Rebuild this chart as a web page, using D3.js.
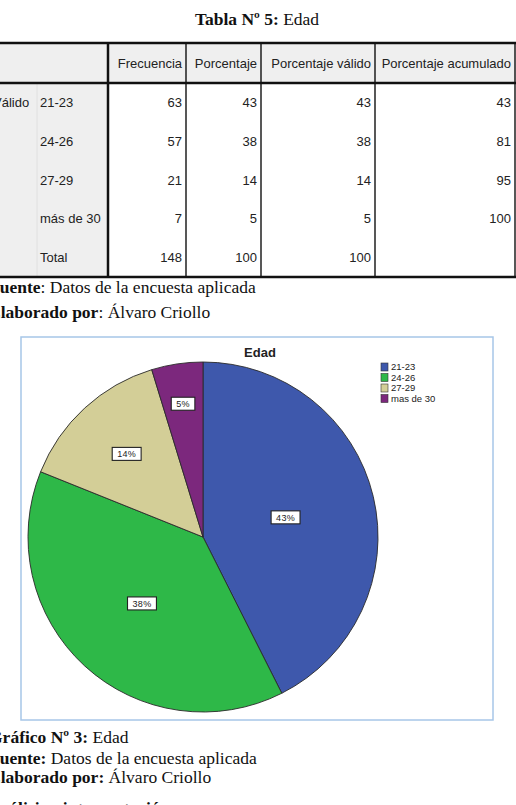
<!DOCTYPE html>
<html>
<head>
<meta charset="utf-8">
<script src="https://cdn.jsdelivr.net/npm/d3@7"></script>
<style>
  body { margin: 0; background: #fff; overflow: hidden; }
  svg { display: block; }
  .serif { font-family: "Liberation Serif", "Times New Roman", serif; font-size: 17.5px; fill: #111; }
  .sans { font-family: "Liberation Sans", Arial, sans-serif; fill: #222; }
</style>
</head>
<body>
<svg id="page" width="516" height="805"></svg>
<script>
// table data
const categories = ["21-23", "24-26", "27-29", "más de 30"];
const frecuencia = [63, 57, 21, 7];
const porcentaje = [43, 38, 14, 5];
const porcentajeValido = [43, 38, 14, 5];
const porcentajeAcumulado = [43, 81, 95, 100];
const totalRow = ["148", "100", "100", ""];
const headers = ["Frecuencia", "Porcentaje", "Porcentaje válido", "Porcentaje acumulado"];

// pie data
const legendLabels = ["21-23", "24-26", "27-29", "mas de 30"];
const colors = ["#3e58ac", "#2eb848", "#d3ce97", "#7c287d"];

const svg = d3.select("#page");

// ---------- title ----------
svg.append("text")
  .attr("class", "serif")
  .attr("x", 257)
  .attr("y", 25)
  .attr("text-anchor", "middle")
  .call(t => {
    t.append("tspan").attr("font-weight", "bold").text("Tabla Nº 5: ");
    t.append("tspan").text("Edad");
  });

// ---------- table ----------
const tableTop = 43, headerBottom = 83, tableBottom = 277;
const colEdges = [108, 186, 261, 375, 515];
const tfs = 13;

const rows = categories.map(function(c, i) {
  return [c, frecuencia[i], porcentaje[i], porcentajeValido[i], porcentajeAcumulado[i]];
});
rows.push(["Total"].concat(totalRow));

const rowScale = d3.scaleBand()
  .domain(d3.range(rows.length))
  .range([headerBottom, tableBottom]);

const table = svg.append("g");

// backgrounds
table.append("rect")
  .attr("x", 0).attr("y", tableTop)
  .attr("width", 516).attr("height", headerBottom - tableTop)
  .attr("fill", "#efefef");
table.append("rect")
  .attr("x", 0).attr("y", headerBottom)
  .attr("width", colEdges[0]).attr("height", tableBottom - headerBottom)
  .attr("fill", "#efefef");

// faint split in stub column
table.append("line")
  .attr("x1", 37).attr("x2", 37)
  .attr("y1", headerBottom).attr("y2", tableBottom)
  .attr("stroke", "#e0e0e0").attr("stroke-width", 1);

// vertical rules
table.selectAll("line.v")
  .data(colEdges)
  .enter()
  .append("line")
  .attr("class", "v")
  .attr("x1", d => d).attr("x2", d => d)
  .attr("y1", tableTop).attr("y2", tableBottom)
  .attr("stroke", "#111")
  .attr("stroke-width", function(d, i) { return i === 0 ? 2.5 : 1.4; });

// horizontal rules
table.selectAll("line.h")
  .data([tableTop, headerBottom, tableBottom])
  .enter()
  .append("line")
  .attr("class", "h")
  .attr("x1", 0).attr("x2", 516)
  .attr("y1", d => d).attr("y2", d => d)
  .attr("stroke", "#111")
  .attr("stroke-width", 2.5);

// header text
table.selectAll("text.head")
  .data(headers)
  .enter()
  .append("text")
  .attr("class", "sans head")
  .attr("font-size", tfs)
  .attr("x", function(d, i) { return colEdges[i + 1] - 4; })
  .attr("y", 68)
  .attr("text-anchor", "end")
  .text(d => d);

// stub labels
table.append("text")
  .attr("class", "sans")
  .attr("font-size", tfs)
  .attr("x", -7)
  .attr("y", rowScale(0) + rowScale.bandwidth() / 2 + 4.5)
  .text("Válido");

const rowG = table.selectAll("g.row")
  .data(rows)
  .enter()
  .append("g")
  .attr("class", "row")
  .attr("transform", function(d, i) {
    return "translate(0," + (rowScale(i) + rowScale.bandwidth() / 2 + 4.5) + ")";
  });

rowG.append("text")
  .attr("class", "sans")
  .attr("font-size", tfs)
  .attr("x", 40)
  .text(d => d[0]);

rowG.selectAll("text.val")
  .data(d => d.slice(1))
  .enter()
  .append("text")
  .attr("class", "sans val")
  .attr("font-size", tfs)
  .attr("x", function(d, i) { return colEdges[i + 1] - 4; })
  .attr("text-anchor", "end")
  .text(d => d);

// ---------- caption lines ----------
function caption(y, bold, normal) {
  svg.append("text")
    .attr("class", "serif")
    .attr("x", -11)
    .attr("y", y)
    .call(t => {
      t.append("tspan").attr("font-weight", "bold").text(bold);
      t.append("tspan").text(normal);
    });
}
caption(293, "Fuente", ": Datos de la encuesta aplicada");
caption(318, "Elaborado por", ": Álvaro Criollo");

// ---------- chart box ----------
svg.append("rect")
  .attr("x", 21).attr("y", 337)
  .attr("width", 472).attr("height", 383)
  .attr("fill", "#fff")
  .attr("stroke", "#a7c6e8")
  .attr("stroke-width", 1.5);

svg.append("text")
  .attr("class", "sans")
  .attr("x", 260)
  .attr("y", 357)
  .attr("text-anchor", "middle")
  .attr("font-size", 13)
  .attr("font-weight", "bold")
  .text("Edad");

// pie
const R = 175;
const cx = 203, cy = 537;

const pie = d3.pie().sort(null).value(d => d);
const arcs = pie(frecuencia);
const arc = d3.arc().innerRadius(0).outerRadius(R);

const pieG = svg.append("g").attr("transform", "translate(" + cx + "," + cy + ")");

pieG.selectAll("path")
  .data(arcs)
  .enter()
  .append("path")
  .attr("d", arc)
  .attr("fill", function(d, i) { return colors[i]; })
  .attr("stroke", "#2a2a2a")
  .attr("stroke-width", 0.9)
  .attr("stroke-linejoin", "round");

// labels at slice centroids (narrow slices pushed outward)
function labelPos(d) {
  const half = (d.endAngle - d.startAngle) / 2;
  const mid = (d.startAngle + d.endAngle) / 2;
  let r = (2 * R * Math.sin(half)) / (3 * half);
  if (half * 2 < 0.4) r = R * 0.77;
  return [r * Math.sin(mid), -r * Math.cos(mid)];
}

const lab = pieG.selectAll("g.lab")
  .data(arcs)
  .enter()
  .append("g")
  .attr("class", "lab")
  .attr("transform", function(d) { return "translate(" + labelPos(d) + ")"; });

lab.append("text")
  .attr("class", "sans")
  .attr("font-size", 9)
  .attr("text-anchor", "middle")
  .attr("y", 3.3)
  .attr("letter-spacing", 0.3)
  .text(function(d, i) { return porcentaje[i] + "%"; })
  .each(function() {
    const bb = this.getBBox();
    d3.select(this.parentNode)
      .insert("rect", "text")
      .attr("x", bb.x - 5)
      .attr("y", -6.5)
      .attr("width", bb.width + 10)
      .attr("height", 13)
      .attr("fill", "#fff")
      .attr("stroke", "#222")
      .attr("stroke-width", 1.1);
  });

// legend
const legendScale = d3.scalePoint()
  .domain(legendLabels)
  .range([367, 398.5]);

const leg = svg.selectAll("g.leg")
  .data(legendLabels)
  .enter()
  .append("g")
  .attr("class", "leg")
  .attr("transform", d => "translate(381," + legendScale(d) + ")");

leg.append("rect")
  .attr("x", 0).attr("y", -4)
  .attr("width", 7).attr("height", 8)
  .attr("fill", function(d, i) { return colors[i]; })
  .attr("stroke", "#333")
  .attr("stroke-width", 0.6);

leg.append("text")
  .attr("class", "sans")
  .attr("font-size", 9.5)
  .attr("x", 10)
  .attr("y", 3.4)
  .text(d => d);

// ---------- bottom captions ----------
caption(743, "Gráfico Nº 3:", " Edad");
caption(764, "Fuente:", " Datos de la encuesta aplicada");
caption(783, "Elaborado por:", " Álvaro Criollo");

svg.append("text")
  .attr("class", "serif")
  .attr("x", -13)
  .attr("y", 814)
  .attr("font-weight", "bold")
  .text("Análisis e interpretación");
</script>
</body>
</html>
